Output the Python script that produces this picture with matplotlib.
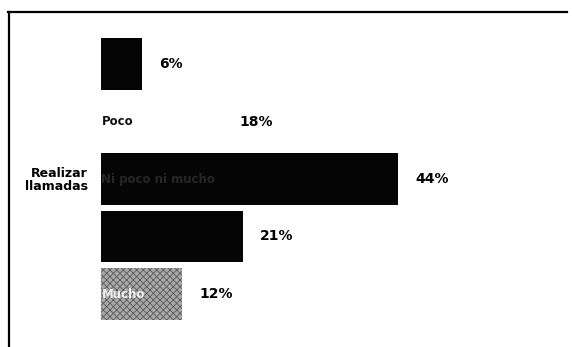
import matplotlib
matplotlib.use("Agg")
import matplotlib.pyplot as plt
from matplotlib.lines import Line2D

plt.rcParams['font.family'] = ['DejaVu Sans']
plt.rcParams['hatch.linewidth'] = 0.6

# Survey responses for one activity
category = "Realizar\nllamadas"
levels = ["Nada", "Poco", "Ni poco ni mucho", "Bastante", "Mucho"]
values = [6, 18, 44, 21, 12]
bar_colors = ["#050505", "#ffffff", "#050505", "#050505", "#a8a8a8"]
text_colors = ["#050505", "#111111", "#262626", "#050505", "#f0f0f0"]

fig = plt.figure(figsize=(5.72, 3.47), dpi=100)
fig.patch.set_facecolor("white")

W, H = 572, 347
left_px, top_px = 101, 35.25
px_per_unit = 6.75
xmax = 60
ax_w = xmax * px_per_unit
ax_h = 287.5
ax = fig.add_axes([left_px / W, (H - top_px - ax_h) / H, ax_w / W, ax_h / H])

ypos = list(range(len(values)))
bars = ax.barh(ypos, values, height=0.9, color=bar_colors, edgecolor="none")
bars[4].set_hatch("xxxxx")
bars[4].set_edgecolor("#5a5a5a")
bars[4].set_linewidth(0)

ax.set_xlim(0, xmax)
ax.set_ylim(len(values) - 0.5, -0.5)
ax.axis("off")

for y, v, lev, tc in zip(ypos, values, levels, text_colors):
    ax.annotate(f"{v}%", xy=(v, y), xytext=(12.5, 0), textcoords="offset points",
                ha="left", va="center", fontsize=10, fontweight="bold", color="black")
    ax.annotate(lev, xy=(0, y), xytext=(0.3, 0), textcoords="offset points",
                ha="left", va="center", fontsize=8.5, fontweight="bold", color=tc)

fig.text(88 / W, (H - 180) / H, category, ha="right", va="center",
         fontsize=9, fontweight="bold", linespacing=1.0)

# Surrounding frame (top and left edges)
fig.add_artist(Line2D([8 / W, 567 / W], [(H - 12) / H, (H - 12) / H], color="black", lw=1.6))
fig.add_artist(Line2D([9 / W, 9 / W], [(H - 12) / H, 0], color="black", lw=1.6))

fig.savefig("out.png", dpi=100, facecolor="white")
